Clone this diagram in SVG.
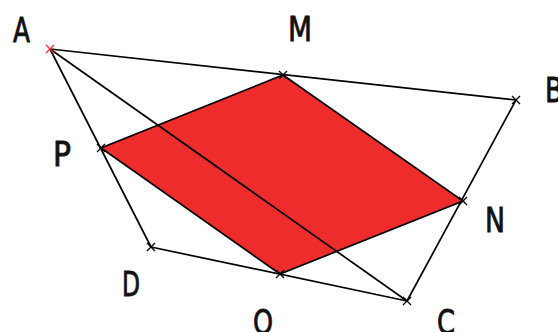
<svg xmlns="http://www.w3.org/2000/svg" width="558" height="332" viewBox="0 0 558 332">
<style>
.edge{stroke:#000;stroke-width:1.7;fill:none}
.shape{fill:#EE2C2C;stroke:#000;stroke-width:1.7}
.mk{stroke:#000;stroke-width:1.3;fill:none}
.mkr{stroke:#F03030;stroke-width:1.3;fill:none}
.lbl{font-family:"DejaVu Sans","Liberation Sans",sans-serif;font-size:34px;fill:#111;stroke:#111;stroke-width:0.9}
</style>
<defs>
<path id="x" d="M-4,-4L4,4M-4,4L4,-4"/>
</defs>
<rect width="558" height="332" fill="#fff"/>
<g id="MNQP">
<polygon class="shape" points="283,75 463,201 280,274 101,148"/>
</g>
<g id="connectors">
<line class="edge" x1="50" y1="49" x2="516" y2="100"/>
<line class="edge" x1="516" y1="100" x2="407" y2="301"/>
<line class="edge" x1="407" y1="301" x2="151" y2="247"/>
<line class="edge" x1="151" y1="247" x2="50" y2="49"/>
<line class="edge" x1="50" y1="49" x2="407" y2="301"/>
</g>
<g id="A"><use href="#x" class="mkr" x="50" y="49"/><text class="lbl" x="13" y="42" textLength="17" lengthAdjust="spacingAndGlyphs">A</text></g>
<g id="M"><use href="#x" class="mk" x="283" y="75"/><text class="lbl" x="288" y="41" textLength="24" lengthAdjust="spacingAndGlyphs">M</text></g>
<g id="B"><use href="#x" class="mk" x="516" y="100"/><text class="lbl" x="545" y="102" textLength="18" lengthAdjust="spacingAndGlyphs">B</text></g>
<g id="P"><use href="#x" class="mk" x="101" y="148"/><text class="lbl" x="53" y="166" textLength="18" lengthAdjust="spacingAndGlyphs">P</text></g>
<g id="N"><use href="#x" class="mk" x="463" y="201"/><text class="lbl" x="485" y="232" textLength="20" lengthAdjust="spacingAndGlyphs">N</text></g>
<g id="D"><use href="#x" class="mk" x="151" y="247"/><text class="lbl" x="122" y="296" textLength="18" lengthAdjust="spacingAndGlyphs">D</text></g>
<g id="Q"><use href="#x" class="mk" x="280" y="274"/><text class="lbl" x="253" y="334" textLength="20" lengthAdjust="spacingAndGlyphs">Q</text></g>
<g id="C"><use href="#x" class="mk" x="407" y="301"/><text class="lbl" x="437" y="334" textLength="18" lengthAdjust="spacingAndGlyphs">C</text></g>
</svg>
